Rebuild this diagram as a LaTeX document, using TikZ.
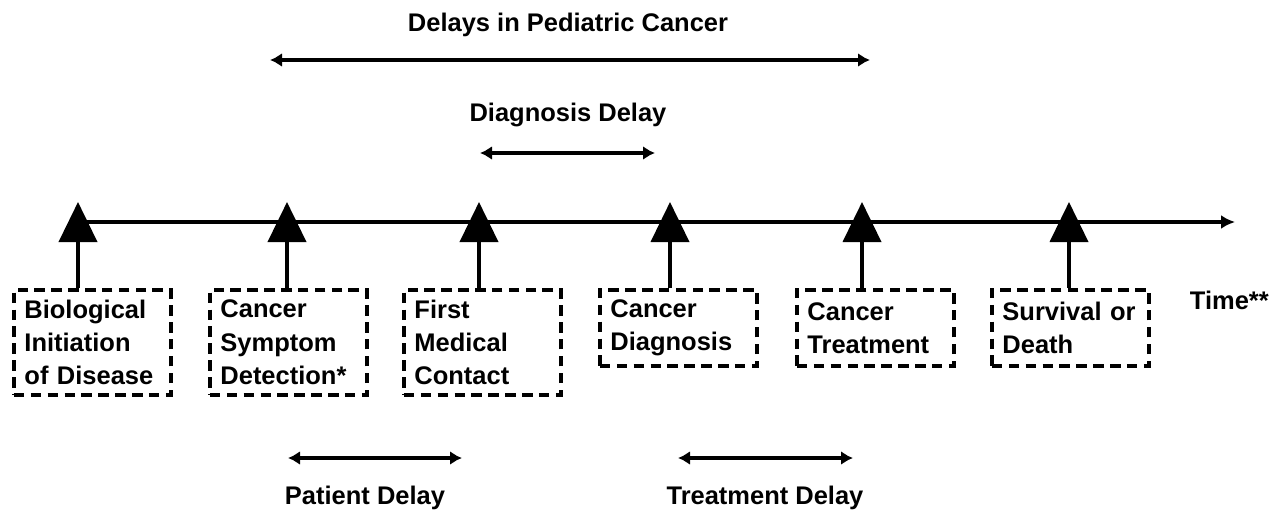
\documentclass[tikz,border=0pt]{standalone}
\usepackage{fontspec}
\setmainfont{Liberation Sans}
\usetikzlibrary{arrows.meta, calc}

\tikzset{
  event/.style={draw, line width=2.2pt, dash pattern=on 6pt off 3.6pt, anchor=north west,
    align=left, text width=2.72cm, inner xsep=0.21cm, inner ysep=0pt,
    font=\bfseries\fontsize{14.5}{19}\selectfont},
  tall/.style={minimum height=2.1cm},
  short/.style={minimum height=1.52cm},
  marker/.style={line width=2.2pt, -{Triangle[length=0.8cm, width=0.76cm]}},
  span/.style={line width=2.2pt, {Latex[length=0.24cm,width=0.28cm]}-{Latex[length=0.24cm,width=0.28cm]}},
  lbl/.style={font=\bfseries\fontsize{14.5}{19}\selectfont},
}

\begin{document}
\begin{tikzpicture}

\useasboundingbox (0,0) rectangle (25.5,-10.22);

 %%Paramaters
\def\lineY{-4.44}
\def\tipY{-4.04}
\def\boxY{-5.76}

%% events (dashed boxes)
\node[event, tall] (bio) at (0.24, \boxY) {Biological\\Initiation\\of Disease};
\node[event, tall] (symp) at (4.16, \boxY) {Cancer\\Symptom\\Detection*};
\node[event, tall] (contact) at (8.04, \boxY) {First\\Medical\\Contact};
\node[event, short] (diag) at (11.96, \boxY) {Cancer\\Diagnosis};
\node[event, short] (treat) at (15.9, \boxY) {Cancer\\Treatment};
\node[event, short] (surv) at (19.8, \boxY) {Survival or\\Death};

%% time axis
\coordinate (t0) at (1.56, \lineY);
\coordinate (tend) at (24.7, \lineY);
\draw[line width=2.2pt, -{Latex[length=0.28cm,width=0.28cm]}] (t0) -- (tend);
\node[lbl, anchor=east] (time) at (25.5, -6.0) {Time**};

%% markers on the axis
\coordinate (m1) at (1.56, \tipY);
\coordinate (m2) at (5.74, \tipY);
\coordinate (m3) at (9.58, \tipY);
\coordinate (m4) at (13.4, \tipY);
\coordinate (m5) at (17.24, \tipY);
\coordinate (m6) at (21.38, \tipY);
\foreach \m/\b in {m1/bio, m2/symp, m3/contact, m4/diag, m5/treat, m6/surv}
  \draw[marker] (\m |- \b.north) -- (\m);

%% Delays in Pediatric Cancer
\node[lbl] (total) at (11.36, -0.5) {Delays in Pediatric Cancer};
\coordinate (totalL) at (5.4, -1.2);
\coordinate (totalR) at (17.4, -1.2);
\draw[span] (totalL) -- (totalR);

%% Diagnosis Delay
\node[lbl] (diaglbl) at (11.36, -2.3) {Diagnosis Delay};
\coordinate (diagL) at (9.6, -3.06);
\coordinate (diagR) at (13.1, -3.06);
\draw[span] (diagL) -- (diagR);

%% Patient Delay
\node[lbl] (patlbl) at (7.3, -9.96) {Patient Delay};
\coordinate (patL) at (5.76, -9.16);
\coordinate (patR) at (9.24, -9.16);
\draw[span] (patL) -- (patR);

%% Treatment Delay
\node[lbl] (treatlbl) at (15.3, -9.96) {Treatment Delay};
\coordinate (treatL) at (13.56, -9.16);
\coordinate (treatR) at (17.06, -9.16);
\draw[span] (treatL) -- (treatR);

\end{tikzpicture}
\end{document}
